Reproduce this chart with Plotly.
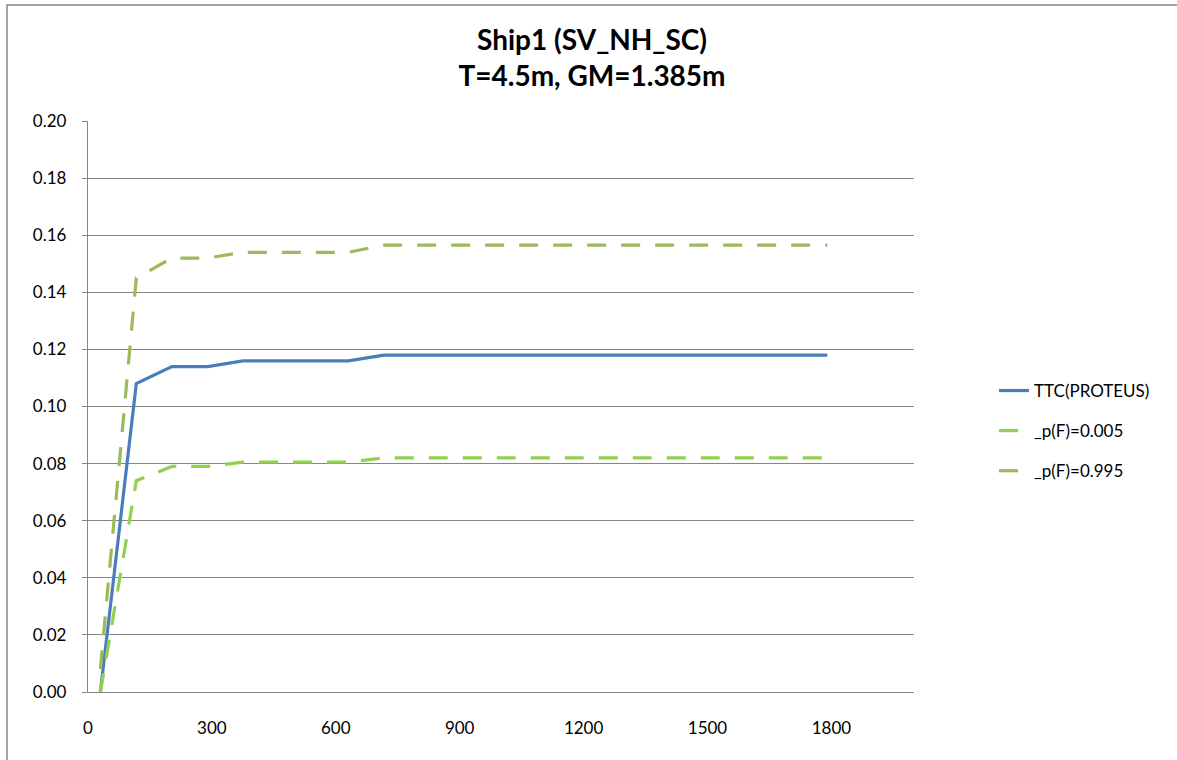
import plotly.graph_objects as go

# Data
time_s = [30, 117, 203, 290, 375, 630, 717, 1790]
ttc_proteus = [0.000, 0.108, 0.114, 0.114, 0.116, 0.116, 0.118, 0.118]
p_005 = [0.000, 0.074, 0.079, 0.079, 0.0805, 0.0805, 0.082, 0.082]
p_995 = [0.008, 0.145, 0.152, 0.152, 0.154, 0.154, 0.1565, 0.1565]

series_names = ["TTC(PROTEUS)", "_p(F)=0.005", "_p(F)=0.995"]
x_ticks = [0, 300, 600, 900, 1200, 1500, 1800]
y_ticks = [0.00, 0.02, 0.04, 0.06, 0.08, 0.10, 0.12, 0.14, 0.16, 0.18, 0.20]

FONT = "Lato, 'Open Sans', sans-serif"
GRID = "#868686"

fig = go.Figure()
fig.add_trace(go.Scatter(
    x=time_s, y=ttc_proteus, mode="lines", name=series_names[0],
    line=dict(color="#4A7EBB", width=3.2), legendgroup="a"))
fig.add_trace(go.Scatter(
    x=time_s, y=p_005, mode="lines", name=series_names[1],
    line=dict(color="#92D050", width=3.2, dash="19px,15px"), legendgroup="b"))
fig.add_trace(go.Scatter(
    x=time_s, y=p_995, mode="lines", name=series_names[2],
    line=dict(color="#9BBB59", width=3.2, dash="19px,15px"), legendgroup="c"))

L, R, T, B = 88, 914, 121, 692
W, H = 1177, 760
pw, ph = R - L, B - T

def px_x(p):
    return (p - L) / pw

def px_y(p):
    return (B - p) / ph

fig.update_layout(
    width=W, height=H,
    margin=dict(l=L, r=W - R, t=T, b=H - B, autoexpand=False),
    paper_bgcolor="white", plot_bgcolor="white",
    font=dict(family=FONT, size=16, color="#000000"),
    title=dict(
        text="<b>Ship1 (SV_NH_SC)<br>T=4.5m, GM=1.385m</b>",
        x=0.503, xref="container", xanchor="center",
        y=1 - 50 / H, yref="container", yanchor="top",
        font=dict(family=FONT, size=28, color="#000000"),
    ),
    xaxis=dict(
        range=[0, 2000], tickvals=x_ticks, ticktext=[str(v) for v in x_ticks],
        showgrid=False, zeroline=False, showline=True, linecolor=GRID, linewidth=1.3,
        ticks="", ticklabelstandoff=20, tickfont=dict(size=17, family=FONT),
    ),
    yaxis=dict(
        range=[0, 0.2], tickvals=y_ticks, ticktext=[f"{v:.2f}" for v in y_ticks],
        showgrid=True, gridcolor=GRID, gridwidth=1.2, zeroline=False,
        showline=True, linecolor=GRID, linewidth=1.3,
        ticks="outside", ticklen=5, tickcolor=GRID,
        ticklabelstandoff=12, tickfont=dict(size=17, family=FONT),
    ),
    legend=dict(
        x=px_x(994), y=px_y(373), xanchor="left", yanchor="top",
        font=dict(size=17, family=FONT), tracegroupgap=15,
        bgcolor="rgba(0,0,0,0)",
    ),
    showlegend=True,
)

# outer chart-area frame (extends past the right and bottom edges)
fig.add_shape(
    type="rect", xref="paper", yref="paper",
    x0=px_x(7), x1=px_x(1190), y0=px_y(775), y1=px_y(5),
    line=dict(color="#888888", width=1.5), fillcolor="rgba(0,0,0,0)", layer="above",
)

fig.write_html(
    "out.html",
    config={"displayModeBar": False},
    post_script="document.body.style.margin='0';document.body.style.overflow='hidden';",
)
